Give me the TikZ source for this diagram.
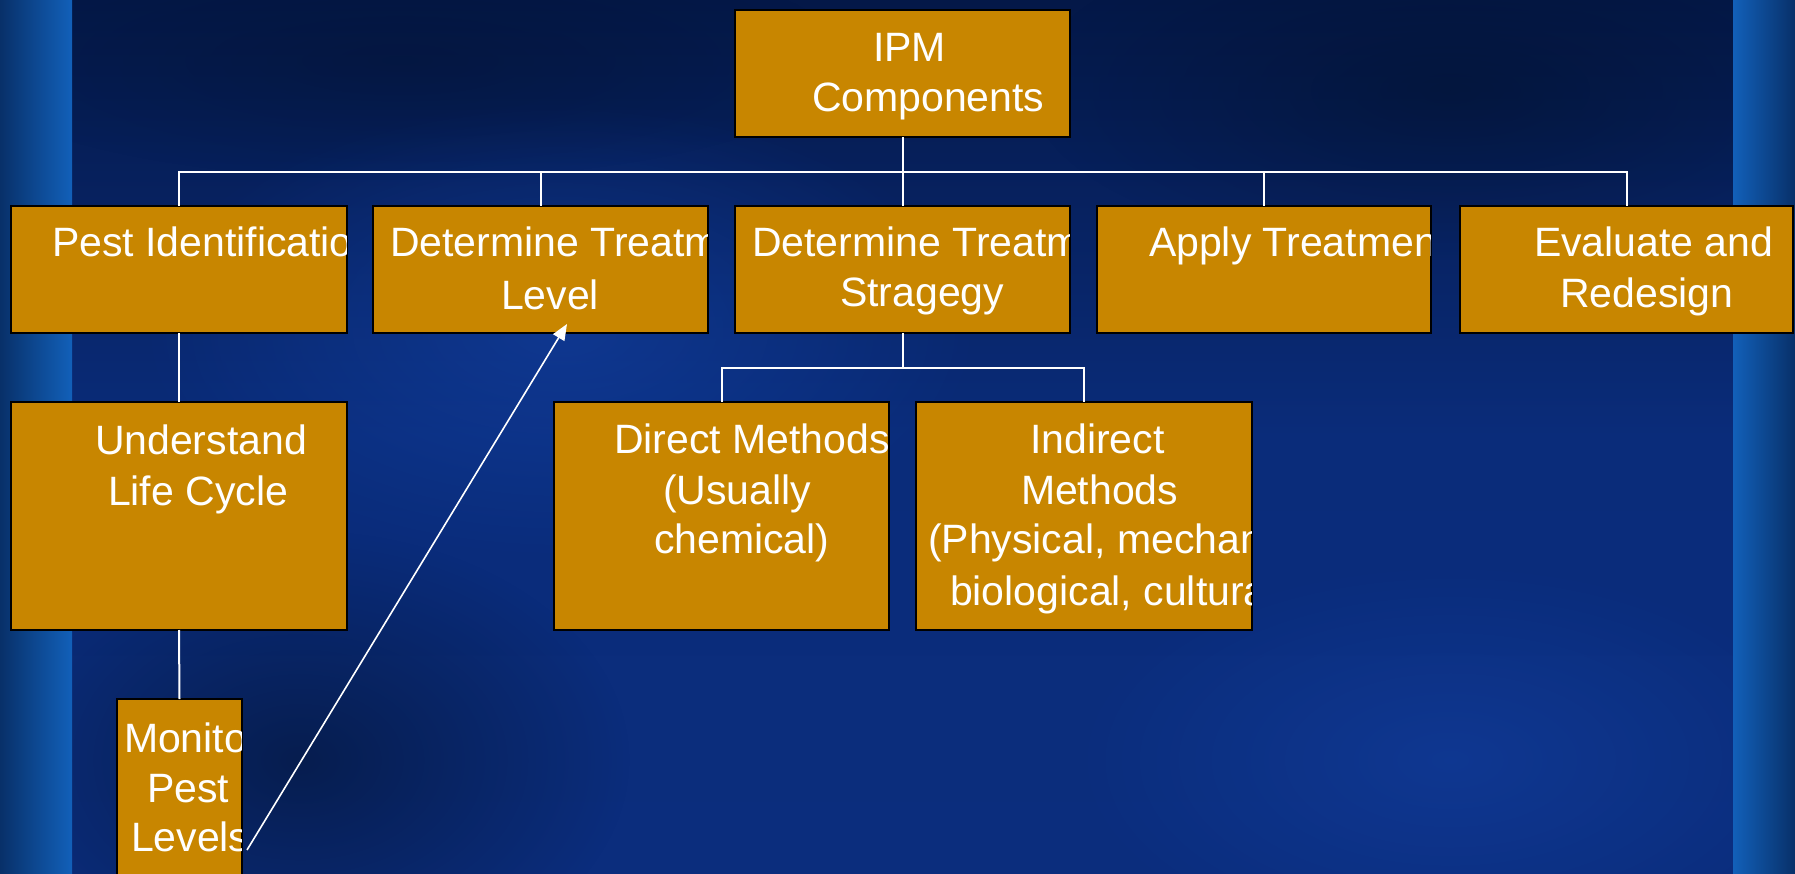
\documentclass[tikz,border=0pt]{standalone}
\usepackage{fontspec}
\setmainfont{Liberation Sans}
\usetikzlibrary{arrows.meta,fadings}
\definecolor{boxfill}{RGB}{200,134,0}
\definecolor{bgtop}{RGB}{4,24,72}
\definecolor{bgmid}{RGB}{10,44,122}
\definecolor{bgbot}{RGB}{11,45,125}
\definecolor{stripdark}{RGB}{8,48,105}
\definecolor{stripbright}{RGB}{18,96,185}
\definecolor{darkpatch}{RGB}{2,16,42}
\definecolor{brightpatch}{RGB}{22,75,185}
\tikzfading[name=softdot, inner color=transparent!0, outer color=transparent!100]
\begin{document}
\begin{tikzpicture}[x=1pt,y=-1pt,
  box/.style={draw=black, line width=2pt, fill=boxfill, rectangle, inner sep=0pt, outer sep=0pt, anchor=north west},
  txt/.style={text=white, font=\fontsize{41}{50}\selectfont, inner sep=0pt, outer sep=0pt, anchor=base west},
  conn/.style={draw=white, line width=2pt},
  arr/.style={draw=white, line width=1.6pt, -{Triangle[length=16pt,width=13pt]}},
  patch/.style={path fading=softdot, fill opacity=#1},
  patch/.default=0.5]
\useasboundingbox (0,0) rectangle (1795,874);
\clip (0,0) rectangle (1795,874);
% background
\shade[top color=bgtop, bottom color=bgbot, middle color=bgmid] (0,0) rectangle (1795,874);
\fill[brightpatch, patch=0.45] (560,330) ellipse (420 and 230);
\fill[brightpatch, patch=0.35] (1450,760) ellipse (380 and 200);
\fill[darkpatch, patch=0.55] (300,760) ellipse (330 and 230);
\fill[darkpatch, patch=0.5] (1450,90) ellipse (420 and 170);
\fill[darkpatch, patch=0.35] (400,60) ellipse (450 and 120);
\shade[left color=stripdark, right color=stripbright] (0,0) rectangle (72,874);
\shade[left color=stripbright, right color=stripdark] (1733,0) rectangle (1795,874);

% boxes
\node[box, minimum width=335pt, minimum height=127pt] (ipm) at (735,10) {};
\node[box, minimum width=336pt, minimum height=127pt] (pest) at (11,206) {};
\node[box, minimum width=335pt, minimum height=127pt] (dtl) at (373,206) {};
\node[box, minimum width=335pt, minimum height=127pt] (dts) at (735,206) {};
\node[box, minimum width=334pt, minimum height=127pt] (apply) at (1097,206) {};
\node[box, minimum width=333pt, minimum height=127pt] (eval) at (1460,206) {};
\node[box, minimum width=336pt, minimum height=228pt] (und) at (11,402) {};
\node[box, minimum width=125pt, minimum height=260pt] (mon) at (117,699) {};
\node[box, minimum width=335pt, minimum height=228pt] (direct) at (554,402) {};
\node[box, minimum width=336pt, minimum height=228pt] (ind) at (916,402) {};

% texts (clipped to their boxes)
\begin{scope}
\clip ([xshift=1pt,yshift=-1pt]ipm.north west) rectangle ([xshift=-1pt,yshift=1pt]ipm.south east);
\node[txt] (t-ipm1) at (873,62) {IPM};
\node[txt] (t-ipm2) at (812,112) {Components};
\end{scope}
\begin{scope}
\clip ([xshift=1pt,yshift=-1pt]pest.north west) rectangle ([xshift=-1pt,yshift=1pt]pest.south east);
\node[txt] (t-pest) at (52,257) {Pest Identification};
\end{scope}
\begin{scope}
\clip ([xshift=1pt,yshift=-1pt]dtl.north west) rectangle ([xshift=-1pt,yshift=1pt]dtl.south east);
\node[txt] (t-dtl1) at (390,257) {Determine Treatment};
\node[txt] (t-dtl2) at (501,309) {Level};
\end{scope}
\begin{scope}
\clip ([xshift=1pt,yshift=-1pt]dts.north west) rectangle ([xshift=-1pt,yshift=1pt]dts.south east);
\node[txt] (t-dts1) at (752,257) {Determine Treatment};
\node[txt] (t-dts2) at (840,307) {Stragegy};
\end{scope}
\begin{scope}
\clip ([xshift=1pt,yshift=-1pt]apply.north west) rectangle ([xshift=-1pt,yshift=1pt]apply.south east);
\node[txt] (t-apply) at (1149,257) {Apply Treatment};
\end{scope}
\begin{scope}
\clip ([xshift=1pt,yshift=-1pt]eval.north west) rectangle ([xshift=-1pt,yshift=1pt]eval.south east);
\node[txt] (t-eval1) at (1534,257) {Evaluate and};
\node[txt] (t-eval2) at (1560,308) {Redesign};
\end{scope}
\begin{scope}
\clip ([xshift=1pt,yshift=-1pt]und.north west) rectangle ([xshift=-1pt,yshift=1pt]und.south east);
\node[txt] (t-und1) at (95,454) {Understand};
\node[txt] (t-und2) at (108,505) {Life Cycle};
\end{scope}
\begin{scope}
\clip ([xshift=1pt,yshift=-1pt]mon.north west) rectangle ([xshift=-1pt,yshift=1pt]mon.south east);
\node[txt] (t-mon1) at (124,752) {Monitor};
\node[txt] (t-mon2) at (147,802) {Pest};
\node[txt] (t-mon3) at (131,851) {Levels};
\end{scope}
\begin{scope}
\clip ([xshift=1pt,yshift=-1pt]direct.north west) rectangle ([xshift=-1pt,yshift=1pt]direct.south east);
\node[txt] (t-dir1) at (614,453) {Direct Methods};
\node[txt] (t-dir2) at (663,504) {(Usually};
\node[txt] (t-dir3) at (654,553) {chemical)};
\end{scope}
\begin{scope}
\clip ([xshift=1pt,yshift=-1pt]ind.north west) rectangle ([xshift=-1pt,yshift=1pt]ind.south east);
\node[txt] (t-ind1) at (1030,453) {Indirect};
\node[txt] (t-ind2) at (1021,504) {Methods};
\node[txt] (t-ind3) at (928,553) {(Physical, mechanical,};
\node[txt] (t-ind4) at (950,605) {biological, cultural)};
\end{scope}

% connectors
\draw[conn] (ipm.south) -- (dts.north);
\draw[conn] (pest.north) -- ++(0,-34) -| (eval.north);
\draw[conn] (dtl.north) -- ++(0,-34);
\draw[conn] (apply.north) -- ++(0,-34);
\draw[conn] (dts.south) -- ++(0,35);
\draw[conn] (direct.north) -- ++(0,-34) -| (ind.north);
\draw[conn] (pest.south) -- (und.north);
\draw[conn] (und.south) -- (mon.north);

% arrow from Monitor Pest Levels to Determine Treatment Level
\coordinate (a-start) at ([xshift=5pt,yshift=-151pt]mon.north east);
\coordinate (a-end) at ([xshift=194pt,yshift=9pt]dtl.south west);
\draw[arr] (a-start) -- (a-end);
\end{tikzpicture}
\end{document}
